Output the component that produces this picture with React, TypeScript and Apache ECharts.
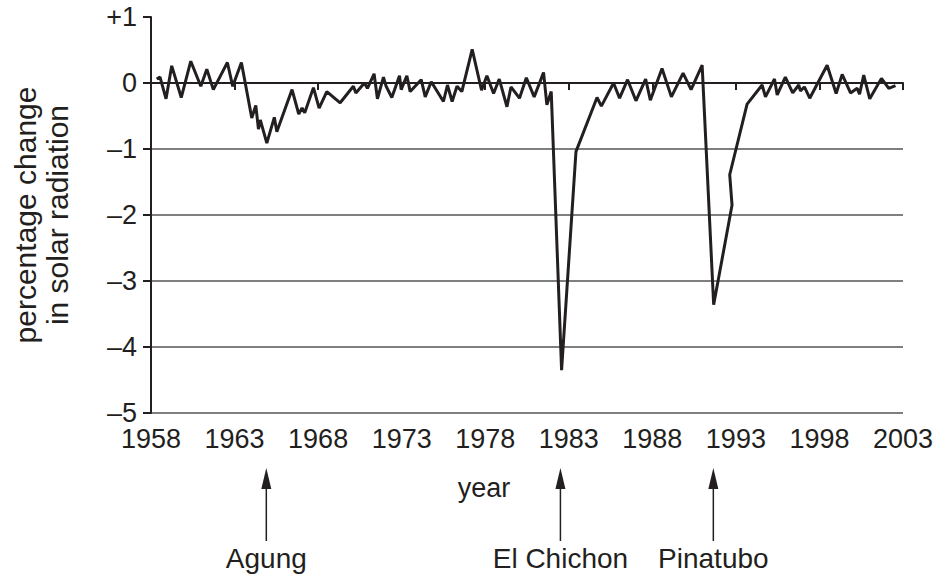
import React, { useEffect, useRef } from "react";
import * as echarts from "echarts";

const years: number[] = [
  1958.34, 1958.54, 1958.9, 1959.24, 1959.81, 1960.38, 1960.98, 1961.34, 1961.73, 1962.57,
  1962.89, 1963.41, 1964.03, 1964.27, 1964.43, 1964.54, 1964.93, 1965.38, 1965.53, 1966.44,
  1966.84, 1967.04, 1967.2, 1967.72, 1968.06, 1968.52, 1969.32, 1970.11, 1970.26, 1970.77,
  1970.95, 1971.35, 1971.55, 1971.91, 1972.07, 1972.41, 1972.87, 1972.97, 1973.31, 1973.51,
  1974.17, 1974.41, 1974.77, 1975.5, 1975.74, 1976.02, 1976.31, 1976.6, 1977.22, 1977.78,
  1978.1, 1978.5, 1978.84, 1979.3, 1979.54, 1980.05, 1980.46, 1980.93, 1981.49, 1981.69,
  1981.95, 1982.57, 1983.43, 1984.69, 1984.95, 1985.68, 1986.04, 1986.52, 1987.02, 1987.6,
  1987.88, 1988.58, 1989.14, 1989.84, 1990.32, 1990.98, 1991.67, 1992.77, 1992.63, 1993.67,
  1994.57, 1994.77, 1995.31, 1995.47, 1995.96, 1996.4, 1996.76, 1996.86, 1997.1, 1997.42,
  1998.46, 1999.0, 1999.36, 1999.86, 2000.26, 2000.4, 2000.65, 2001.01, 2001.71, 2002.15,
  2002.55,
];

const changes: number[] = [
  0.06, 0.09, -0.24, 0.26, -0.22, 0.33, -0.05, 0.21, -0.1, 0.31,
  -0.05, 0.31, -0.53, -0.34, -0.7, -0.56, -0.91, -0.52, -0.74, -0.1,
  -0.47, -0.38, -0.45, -0.07, -0.38, -0.13, -0.3, -0.05, -0.15, 0.0,
  -0.08, 0.14, -0.24, 0.09, -0.05, -0.22, 0.11, -0.1, 0.11, -0.13,
  0.05, -0.21, 0.02, -0.28, -0.03, -0.28, -0.05, -0.13, 0.51, -0.11,
  0.11, -0.16, 0.06, -0.36, -0.06, -0.23, 0.08, -0.21, 0.16, -0.33,
  -0.13, -4.35, -1.04, -0.22, -0.35, 0.0, -0.23, 0.05, -0.27, 0.06,
  -0.26, 0.22, -0.21, 0.15, -0.1, 0.27, -3.36, -1.85, -1.39, -0.32,
  -0.03, -0.21, 0.06, -0.18, 0.09, -0.15, -0.03, -0.12, -0.06, -0.23,
  0.27, -0.16, 0.13, -0.15, -0.08, -0.17, 0.12, -0.24, 0.07, -0.08,
  -0.04,
];

const eruptionNames: string[] = ["Agung", "El Chichon", "Pinatubo"];
const eruptionYears: number[] = [1964.9, 1982.5, 1991.65];

const START_YEAR = 1958;
const END_YEAR = 2003;
const yTickLabels: Record<string, string> = {
  "1": "+1",
  "0": "0",
  "-1": "\u20131",
  "-2": "\u20132",
  "-3": "\u20133",
  "-4": "\u20134",
  "-5": "\u20135",
};

const FONT = "'Liberation Sans', Arial, Helvetica, sans-serif";
const INK = "#231f20";

export default function App() {
  const ref = useRef<HTMLDivElement>(null);

  useEffect(() => {
    if (!ref.current) return;
    const chart = echarts.init(ref.current, undefined, { renderer: "svg" });
    const data = years.map((y, i) => [y - START_YEAR, changes[i]]);
    chart.setOption({
      animation: false,
      backgroundColor: "#fff",
      grid: {
        left: 151,
        right: 35,
        top: 17,
        bottom: 164,
        containLabel: false,
        outerBoundsMode: "none",
      },
      xAxis: {
        type: "value",
        min: 0,
        max: END_YEAR - START_YEAR,
        interval: 5,
        axisLine: { show: true, lineStyle: { color: INK, width: 2 } },
        axisTick: { show: true, length: 7, lineStyle: { color: INK, width: 2 } },
        splitLine: { show: false },
        axisLabel: {
          formatter: (v: number) => String(v + START_YEAR),
          color: INK,
          fontFamily: FONT,
          fontSize: 27,
          margin: 12,
        },
      },
      yAxis: {
        type: "value",
        min: -5,
        max: 1,
        interval: 1,
        axisLine: { show: true, lineStyle: { color: INK, width: 2 } },
        axisTick: { show: true, length: 8, lineStyle: { color: INK, width: 2 } },
        splitLine: {
          show: true,
          showMaxLine: false,
          lineStyle: { color: "#555", width: 1.5 },
        },
        axisLabel: {
          formatter: (v: number) => yTickLabels[String(v)] ?? String(v),
          color: INK,
          fontFamily: FONT,
          fontSize: 27,
          margin: 14,
        },
        name: "percentage change\nin solar radiation",
        nameLocation: "middle",
        nameRotate: 90,
        nameGap: 78,
        nameTextStyle: {
          color: INK,
          fontFamily: FONT,
          fontSize: 30,
          lineHeight: 32,
        },
      },
      series: [
        {
          type: "line",
          data,
          symbol: "none",
          lineStyle: { color: INK, width: 3 },
          z: 5,
        },
      ],
    });

    const graphics: any[] = [
      {
        type: "text",
        x: 484,
        y: 488,
        style: {
          text: "year",
          font: `27px ${FONT}`,
          fill: INK,
          align: "center",
          verticalAlign: "middle",
        },
      },
    ];
    eruptionYears.forEach((yr, i) => {
      const px = chart.convertToPixel({ xAxisIndex: 0 }, yr - START_YEAR) as number;
      graphics.push(
        {
          type: "line",
          shape: { x1: px, y1: 480, x2: px, y2: 541 },
          style: { stroke: INK, lineWidth: 1.5 },
        },
        {
          type: "polygon",
          shape: { points: [[px, 468], [px - 5, 489], [px + 5, 489]] },
          style: { fill: INK },
        },
        {
          type: "text",
          x: px,
          y: 558,
          style: {
            text: eruptionNames[i],
            font: `28px ${FONT}`,
            fill: INK,
            align: "center",
            verticalAlign: "middle",
          },
        }
      );
    });
    chart.setOption({ graphic: graphics });

    return () => chart.dispose();
  }, []);

  return (
    <div
      ref={ref}
      style={{ position: "fixed", left: 0, top: 0, width: 938, height: 577 }}
    />
  );
}
